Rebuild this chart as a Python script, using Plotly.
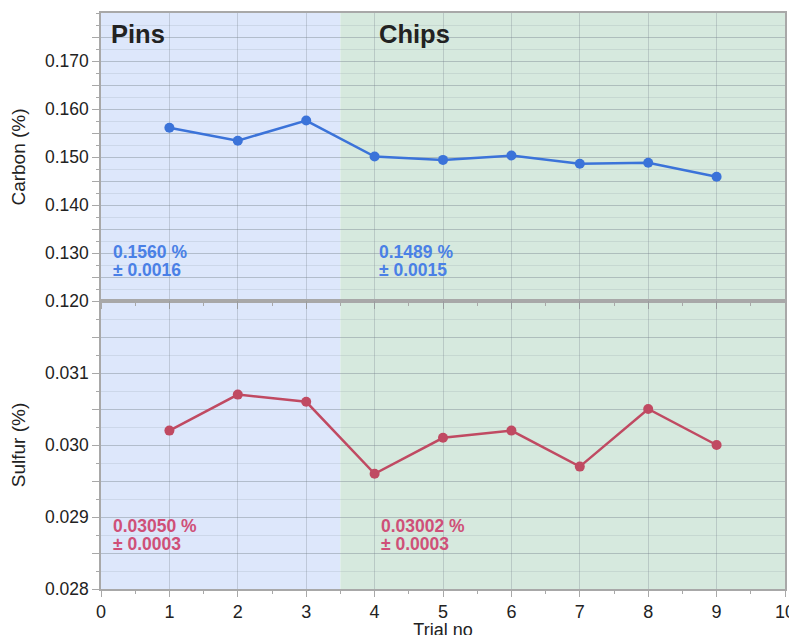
import plotly.graph_objects as go

trials = [1, 2, 3, 4, 5, 6, 7, 8, 9]
carbon = [0.1561, 0.1534, 0.1576, 0.1501, 0.1494, 0.1503, 0.1486, 0.1488, 0.1459]
sulfur = [0.0302, 0.0307, 0.0306, 0.0296, 0.0301, 0.0302, 0.0297, 0.0305, 0.0300]

groups = ["Pins", "Chips"]
group_spans = [(0, 3.5), (3.5, 10)]
carbon_means = ["0.1560 %", "0.1489 %"]
carbon_sds = ["± 0.0016", "± 0.0015"]
sulfur_means = ["0.03050 %", "0.03002 %"]
sulfur_sds = ["± 0.0003", "± 0.0003"]

carbon_ticks = [0.120, 0.130, 0.140, 0.150, 0.160, 0.170]
sulfur_ticks = [0.028, 0.029, 0.030, 0.031]
x_ticks = list(range(0, 11))

FONT = "Liberation Sans, Arial, Helvetica, sans-serif"
BLUE = "#3b73d9"
RED = "#c04a62"
BLUE_TXT = "#4a80e6"
RED_TXT = "#cf5078"
AXIS = "#a8a8a8"
GRID = "rgba(120,130,140,0.30)"
GRID_MINOR = "rgba(120,130,140,0.16)"
BG = ["#dde7fb", "#d6e9de"]

fig = go.Figure()
fig.add_trace(go.Scatter(x=trials, y=carbon, mode="lines+markers",
                         line=dict(color=BLUE, width=2.5),
                         marker=dict(color=BLUE, size=10),
                         xaxis="x", yaxis="y", showlegend=False))
fig.add_trace(go.Scatter(x=trials, y=sulfur, mode="lines+markers",
                         line=dict(color=RED, width=2.5),
                         marker=dict(color=RED, size=10),
                         xaxis="x2", yaxis="y2", showlegend=False))


def major_vals(lo, hi, step):
    n = int(round((hi - lo) / step))
    return [round(lo + i * step, 6) for i in range(n + 1)]


c_major = major_vals(0.120, 0.175, 0.005)
c_text = [("%.3f" % v) if any(abs(v - t) < 1e-9 for t in carbon_ticks) else "" for v in c_major]
s_major = major_vals(0.028, 0.0315, 0.0005)
s_text = [("%.3f" % v) if any(abs(v - t) < 1e-9 for t in sulfur_ticks) else "" for v in s_major]

xaxis_common = dict(range=[0, 10], tickvals=x_ticks, showgrid=True, gridcolor=GRID,
                    gridwidth=1, zeroline=False, showline=True, linecolor=AXIS,
                    linewidth=1.5, mirror=True, ticks="outside", tickcolor=AXIS,
                    ticklen=6, tickwidth=1, automargin=False,
                    minor=dict(dtick=0.5, ticks="outside", ticklen=3, tickcolor=AXIS,
                               showgrid=False),
                    tickfont=dict(family=FONT, size=18, color="#222"))

yaxis_common = dict(showgrid=True, gridcolor=GRID, zeroline=False, showline=True,
                    linecolor=AXIS, linewidth=1.5, mirror=True, ticks="outside",
                    tickcolor=AXIS, ticklen=7, automargin=False,
                    tickfont=dict(family=FONT, size=17.5, color="#222"))

# the page body has an 8px margin, so the figure is offset by (8, 8)
fig.update_layout(
    width=789, height=632,
    margin=dict(l=93, r=12, t=5, b=51),
    paper_bgcolor="white", plot_bgcolor="white",
    font=dict(family=FONT, color="#222"),
    xaxis=dict(xaxis_common, anchor="y", matches="x2", showticklabels=False, domain=[0, 1]),
    xaxis2=dict(xaxis_common, anchor="y2", domain=[0, 1],
                title=dict(text="Trial no", font=dict(family=FONT, size=18, color="#222"),
                           standoff=0)),
    yaxis=dict(yaxis_common, domain=[0.5, 1], range=[0.120, 0.180], tickvals=c_major,
               ticktext=c_text,
               minor=dict(dtick=0.0025, tick0=0.12, ticks="outside", ticklen=3,
                          tickcolor=AXIS, showgrid=True, gridcolor=GRID_MINOR),
               title=dict(text="Carbon (%)", font=dict(family=FONT, size=19, color="#222"),
                          standoff=14)),
    yaxis2=dict(yaxis_common, domain=[0, 0.5], range=[0.028, 0.032], tickvals=s_major,
                ticktext=s_text,
                minor=dict(dtick=0.00025, tick0=0.028, ticks="outside", ticklen=3,
                           tickcolor=AXIS, showgrid=True, gridcolor=GRID_MINOR),
                title=dict(text="Sulfur (%)", font=dict(family=FONT, size=19, color="#222"),
                           standoff=14)),
)

shapes = []
for (x0, x1), bg in zip(group_spans, BG):
    for yref in ["y domain", "y2 domain"]:
        xref = "x" if yref == "y domain" else "x2"
        shapes.append(dict(type="rect", xref=xref, yref=yref, x0=x0, x1=x1, y0=0, y1=1,
                           fillcolor=bg, line=dict(width=0), layer="below"))
fig.update_layout(shapes=shapes)

ann = []


def add_text(x, y, xref, yref, text, size, color, yanchor="middle"):
    ann.append(dict(x=x, y=y, xref=xref, yref=yref, text="<b>%s</b>" % text,
                    showarrow=False, xanchor="left", yanchor=yanchor, align="left",
                    font=dict(family=FONT, size=size, color=color)))


label_x = [0.12, 4.04]
for g, lx in zip(groups, label_x):
    add_text(lx, 0.1757, "x", "y", g, 25.5, "#222")
for m, s, lx in zip(carbon_means, carbon_sds, [0.15, 4.04]):
    add_text(lx, 0.13031, "x", "y", m, 17.5, BLUE_TXT)
    add_text(lx, 0.12646, "x", "y", s, 17.5, BLUE_TXT)
for m, s, lx in zip(sulfur_means, sulfur_sds, [0.15, 4.07]):
    add_text(lx, 0.028875, "x2", "y2", m, 17.5, RED_TXT)
    add_text(lx, 0.028625, "x2", "y2", s, 17.5, RED_TXT)
fig.update_layout(annotations=ann)

fig.write_html("out.html")
